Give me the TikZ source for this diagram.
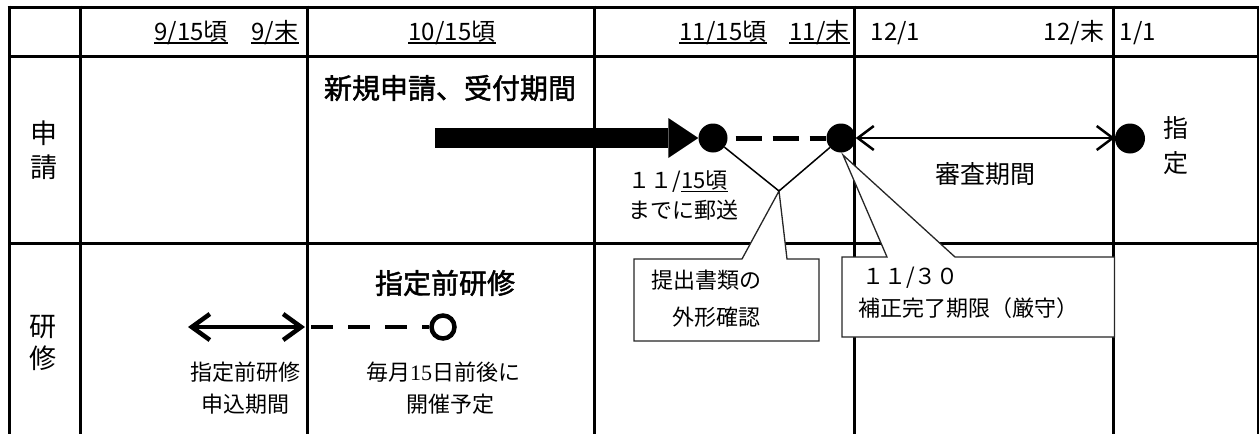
\documentclass[tikz,border=0pt]{standalone}
\usepackage{fontspec}
\setmainfont{Noto Sans CJK JP}
\newfontfamily\serifnum{Liberation Serif}
\newfontfamily\medfont[FakeBold=1.6]{Noto Sans CJK JP}
\usetikzlibrary{arrows.meta}
\begin{document}
\begin{tikzpicture}[x=1pt,y=-1pt,
  gridline/.style={line width=3pt},
  hdr/.style={font=\fontsize{24}{28}\selectfont, inner sep=0pt, anchor=base},
  uline/.style={line width=1.2pt},
  body/.style={font=\fontsize{22}{26}\selectfont, inner sep=0pt},
  titletext/.style={font=\fontsize{28}{32}\selectfont\medfont, inner sep=0pt},
  rowlabel/.style={font=\fontsize{27}{32}\selectfont, inner sep=0pt},
  sidelabel/.style={font=\fontsize{25}{30}\selectfont, inner sep=0pt},
  dot/.style={circle, fill=black, inner sep=0pt, minimum size=29pt},
  callout/.style={fill=white, draw=black!85, line width=1.3pt, line join=miter},
  leader/.style={line width=1.5pt},
]
\useasboundingbox (0,0) rectangle (1259,434);

% grid
\draw[gridline] (7.5,7) -- (1259.5,7);
\draw[gridline] (9,56) -- (1258,56);
\draw[gridline] (9,243) -- (1258,243);
\foreach \x in {9,80,307,594,854,1113,1258} \draw[gridline] (\x,5.5) -- (\x,434);

% header dates
\node[hdr] (h915) at (191,40.5) {9/15頃};
\node[hdr] (h9e) at (275,40.5) {9/末};
\node[hdr] (h1015) at (452,40.5) {10/15頃};
\node[hdr] (h1115) at (723,40.5) {11/15頃};
\node[hdr] (h11e) at (819.5,40.5) {11/末};
\node[hdr] (h121) at (895.5,40.5) {12/1};
\node[hdr] (h12e) at (1074,40.5) {12/末};
\node[hdr] (h11) at (1138,40.5) {1/1};
\foreach \n in {h915,h9e,h1015,h1115,h11e}
  \draw[uline] ([yshift=-2.5pt]\n.base west) -- ([yshift=-2.5pt]\n.base east);

% row labels
\node[rowlabel] (shin) at (44,133) {申};
\node[rowlabel] (sei) at (44,167) {請};
\node[rowlabel] (ken) at (43,327) {研};
\node[rowlabel] (shu) at (43,358) {修};

% titles
\node[titletext] (ttl1) at (450,88) {新規申請、受付期間};
\node[titletext] (ttl2) at (445,283) {指定前研修};

% callouts
\coordinate (tip1) at (779,191);
\coordinate (tip2) at (843,155);
\draw[callout] (634,259) -- (742,259) -- (tip1) -- (787,259) -- (819,259) -- (819,341) -- (634,341) -- cycle;
\draw[callout] (842,257) -- (887,257) -- (tip2) -- (955,257) -- (1114.5,257) -- (1114.5,337) -- (842,337) -- cycle;

% dots
\node[dot] (d1) at (713,138) {};
\node[dot] (d2) at (841,138) {};
\node[dot, minimum size=30pt] (d3) at (1130,138.5) {};

\draw[leader] (tip1) -- (d1);
\draw[leader] (tip1) -- (d2);

% big arrow
\coordinate (bigstart) at (435,138);
\draw[line width=20pt, -{Triangle[length=30pt,width=40pt,line width=0pt]}] (bigstart) -- (d1.west);

% dashed link
\draw[line width=5pt, dash pattern=on 26pt off 11pt] ([xshift=8pt]d1.east) -- (d2.west);

% review period
\draw[line width=2.5pt, {Straight Barb[length=16pt,width=24pt]}-{Straight Barb[length=16pt,width=24pt]}] (d2.east) -- (d2.east -| d3.west);

% training row
\coordinate (sa) at (188,327);
\coordinate (sb) at (305,327);
\draw[line width=4.5pt, {Straight Barb[length=18pt,width=26pt]}-{Straight Barb[length=18pt,width=26pt]}] (sa) -- (sb);
\node[circle, draw, fill=white, line width=4.5pt, inner sep=0pt, minimum size=23pt] (oc) at (443,327) {};
\coordinate (sc) at (311,327);
\draw[line width=4.5pt, dash pattern=on 22pt off 15pt] (sc) -- (oc.west);

% texts
\node[body, anchor=west] (m1) at (628,182) {１１/};
\node[body, anchor=base west] (m2) at (m1.base east) {15頃};
\draw[uline] ([yshift=-2.5pt]m2.base west) -- ([yshift=-2.5pt]m2.base east);
\node[body, anchor=west] (m3) at (628,210) {までに郵送};
\node[sidelabel] (shinsa) at (985,174) {審査期間};
\node[sidelabel] (shi) at (1176,128) {指};
\node[sidelabel] (tei) at (1176,163) {定};

\node[body, anchor=west] (k1) at (651,280) {提出書類の};
\node[body, anchor=west] (k2) at (672,317) {外形確認};
\node[body, anchor=west] (k3) at (862,278) {１１/３０};
\node[body, anchor=west] (k4) at (858,308) {補正完了期限（厳守）};

\node[body] (p1) at (245,372) {指定前研修};
\node[body] (p2) at (245,404) {申込期間};
\node[body] (p3) at (443,372) {毎月{\serifnum 15}日前後に};
\node[body] (p4) at (450,404) {開催予定};
\end{tikzpicture}
\end{document}
